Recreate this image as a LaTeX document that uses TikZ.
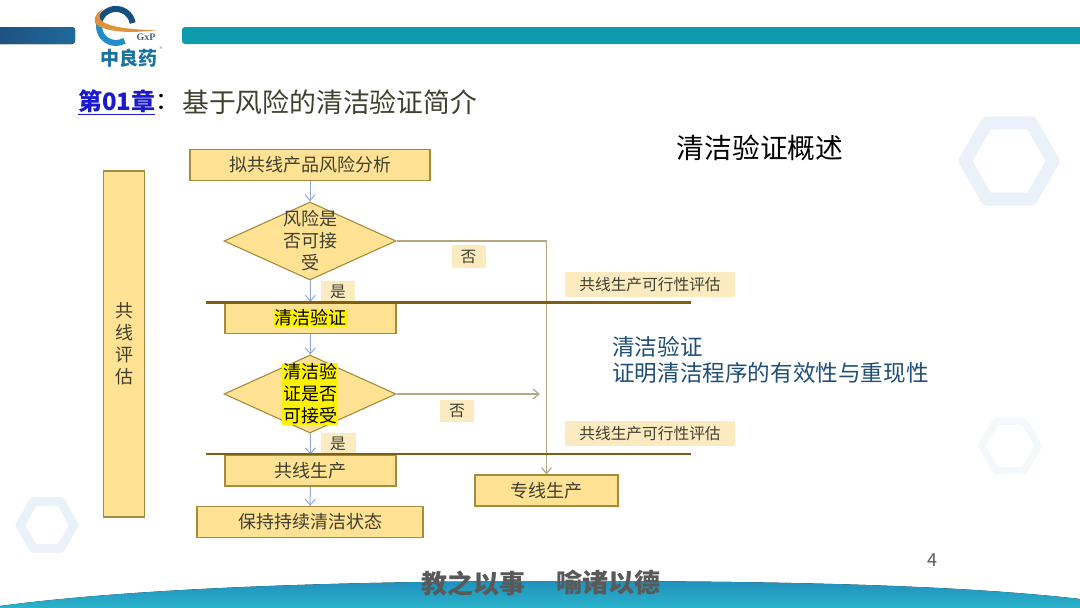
\documentclass[tikz,border=0pt]{standalone}
\usepackage{fontspec}
\setmainfont{Noto Sans CJK SC}
\newfontfamily\logoserif{Liberation Serif}
\usepackage{tikz}
\usetikzlibrary{shapes.geometric,arrows.meta}

\definecolor{boxfill}{HTML}{FFE293}
\definecolor{boxedge}{HTML}{A88A3C}
\definecolor{tagfill}{HTML}{FCEBC0}
\definecolor{rulebrown}{HTML}{7F6010}
\definecolor{flowblue}{HTML}{8FAADC}
\definecolor{flowolive}{HTML}{B5A77F}
\definecolor{textgrey}{HTML}{404030}
\definecolor{linkblue}{HTML}{1A1ACC}
\definecolor{noteblue}{HTML}{1F4E79}
\definecolor{hexblue}{HTML}{EAF1F9}
\definecolor{hexpale}{HTML}{F5F8FA}
\definecolor{barnavy}{HTML}{1D4F7F}
\definecolor{barmid}{HTML}{1F6A9A}
\definecolor{barteal}{HTML}{0F9BAE}
\definecolor{wavetop}{HTML}{2190BC}
\definecolor{wavelow}{HTML}{2BB4CA}
\definecolor{logodark}{HTML}{14507F}
\definecolor{logolight}{HTML}{1F8FC8}
\definecolor{logoorange}{HTML}{E0923A}

\tikzset{
  flowbox/.style={draw=boxedge,fill=boxfill,line width=1.1pt,inner sep=0pt,text=textgrey,font=\fontsize{18}{22}\selectfont},
  flowdia/.style={diamond,aspect=2.2,draw=boxedge,fill=boxfill,line width=1.1pt,inner sep=0pt,minimum width=172pt,minimum height=78pt},
  diatext/.style={align=center,inner sep=0pt,text=textgrey,font=\fontsize{18}{22}\selectfont},
  marked/.style={fill=yellow,text=black,inner sep=1pt,align=center,font=\fontsize{18}{22}\selectfont},
  tagbox/.style={fill=tagfill,inner sep=0pt,text=textgrey,font=\fontsize{15.7}{18}\selectfont},
  blueflow/.style={draw=flowblue,line width=1pt,-{Straight Barb[length=6pt,width=10pt]}},
  oliveflow/.style={draw=flowolive,line width=1.2pt,-{Straight Barb[length=6pt,width=10pt]}},
  stage/.style={draw=rulebrown,line width=2.6pt},
  hexring/.style={regular polygon,regular polygon sides=6,shape border rotate=0,inner sep=0pt,line join=round}
}

\begin{document}
\begin{tikzpicture}[x=1pt,y=-1pt]
    \useasboundingbox (0,0) rectangle (1080,608);

    % background
    \node[hexring,draw=hexblue,line width=13pt,minimum size=88pt] (hexA) at (1009,161) {};
    \node[hexring,draw=hexpale,line width=7pt,minimum size=57pt] (hexB) at (1010,446) {};
    \node[hexring,draw=hexblue,line width=9pt,minimum size=54pt] (hexC) at (47,525) {};
    \fill[left color=barnavy,right color=barmid,rounded corners=3pt] (-6,27) rectangle (75,44);
    \fill[color=barteal,rounded corners=3pt] (182,27) rectangle (1090,44);
    \fill[top color=wavetop,bottom color=wavelow] (0,606) .. controls (150,586) and (380,581) .. (560,581) .. controls (760,581) and (950,584) .. (1080,599) -- (1080,608) -- (0,608) -- cycle;

    % logo
    \draw[line width=6pt,color=logodark] (132.7,23) arc[start angle=-10,end angle=-180,radius=17];
    \draw[line width=6pt,color=logolight] (99,26) arc[start angle=180,end angle=60,radius=17];
    \fill[logoorange] (103,9) .. controls (94,14) and (92,22) .. (98,26) .. controls (112,33) and (135,33) .. (157,30) .. controls (132,30) and (105,27) .. (100,19) .. controls (99,15) and (100,12) .. (103,9) -- cycle;
    \node[font=\logoserif\bfseries\fontsize{10}{11}\selectfont,text=logodark!70!black!80,inner sep=0pt] (logoGxP) at (146,37) {GxP};
    \node[font=\bfseries\fontsize{19}{20}\selectfont,text=logolight!80!black,inner sep=0pt] (logoName) at (129,58) {中良药};
    \node[font=\fontsize{6}{7}\selectfont,text=black!50,inner sep=0pt] (logoMark) at (161,49) {®};

    % headings
    \node[anchor=west,inner sep=0pt,text=linkblue,font=\bfseries\fontsize{24}{28}\selectfont] (chapter) at (78,102) {\underline{第01章}};
    \node[anchor=west,inner sep=0pt,text=black,font=\fontsize{24}{28}\selectfont] (colon) at (155,102) {：};
    \node[anchor=west,inner sep=0pt,text=textgrey,font=\fontsize{26.8}{30}\selectfont] (title) at (182,102) {基于风险的清洁验证简介};
    \node[inner sep=0pt,text=black,font=\fontsize{27.7}{32}\selectfont] (overview) at (760,148) {清洁验证概述};

    % flow boxes
    \node[flowbox,minimum width=41pt,minimum height=346pt,align=center,font=\fontsize{18}{22}\selectfont] (evalbar) at (124,344) {共\\线\\评\\估};
    \node[flowbox,minimum width=240pt,minimum height=31pt] (analysis) at (310,165) {拟共线产品风险分析};
    \node[flowdia] (riskdia) at (310,241) {};
    \node[diatext] (risktext) at (310,241) {风险是\\否可接\\受};
    \node[flowbox,minimum width=171pt,minimum height=31pt] (cleanbox) at (310.5,318) {};
    \node[marked] (cleantext) at (310.5,318) {清洁验证};
    \node[flowdia] (cleandia) at (310,394) {};
    \node[marked] (cleandiatext) at (310,394) {清洁验\\证是否\\可接受};
    \node[flowbox,minimum width=171pt,minimum height=31pt] (sharedbox) at (310.5,470.5) {共线生产};
    \node[flowbox,minimum width=226pt,minimum height=31pt] (keepbox) at (310,522) {保持持续清洁状态};
    \node[flowbox,minimum width=143pt,minimum height=31pt] (dedicated) at (546.5,490.5) {专线生产};

    % tags
    \node[tagbox,minimum width=34pt,minimum height=21pt] (yesA) at (338,291.5) {是};
    \node[tagbox,minimum width=34pt,minimum height=23pt] (noA) at (468.5,256.5) {否};
    \node[tagbox,minimum width=34pt,minimum height=22pt] (noB) at (457,411) {否};
    \node[tagbox,minimum width=35pt,minimum height=21pt] (yesB) at (338,443.5) {是};
    \node[tagbox,minimum width=170pt,minimum height=25pt] (feasA) at (650,284.5) {共线生产可行性评估};
    \node[tagbox,minimum width=170pt,minimum height=25pt] (feasB) at (650,433.5) {共线生产可行性评估};

    % connectors
    \coordinate (noBend) at (540,394);
    \draw[blueflow] (analysis) -- (riskdia);
    \draw[blueflow] (riskdia) -- (cleanbox);
    \draw[blueflow] (cleanbox) -- (cleandia);
    \draw[blueflow] (cleandia) -- (sharedbox);
    \draw[blueflow] (sharedbox) -- (keepbox);
    \draw[oliveflow] (riskdia.east) -| (dedicated.north);
    \draw[oliveflow] (cleandia.east) -- (noBend);

    % stage rules
    \coordinate (ruleAl) at (206,302.5);
    \coordinate (ruleAr) at (691,302.5);
    \coordinate (ruleBl) at (206,454);
    \coordinate (ruleBr) at (691,454);
    \draw[stage] (ruleAl) -- (ruleAr);
    \draw[stage] (ruleBl) -- (ruleBr);

    % notes
    \node[anchor=west,inner sep=0pt,text=noteblue,font=\fontsize{22.6}{26}\selectfont] (noteA) at (612,347) {清洁验证};
    \node[anchor=west,inner sep=0pt,text=noteblue,font=\fontsize{22.6}{26}\selectfont] (noteB) at (612,373) {证明清洁程序的有效性与重现性};
    \node[inner sep=0pt,text=black!65,font=\fontsize{18}{20}\selectfont] (pagenum) at (932,560) {4};
    \node[anchor=west,inner sep=0pt,text=black!65,font=\bfseries\fontsize{26}{30}\selectfont] (mottoA) at (421,583) {教之以事};
    \node[anchor=west,inner sep=0pt,text=black!65,font=\bfseries\fontsize{26}{30}\selectfont] (mottoB) at (556,583) {喻诸以德};
\end{tikzpicture}
\end{document}
